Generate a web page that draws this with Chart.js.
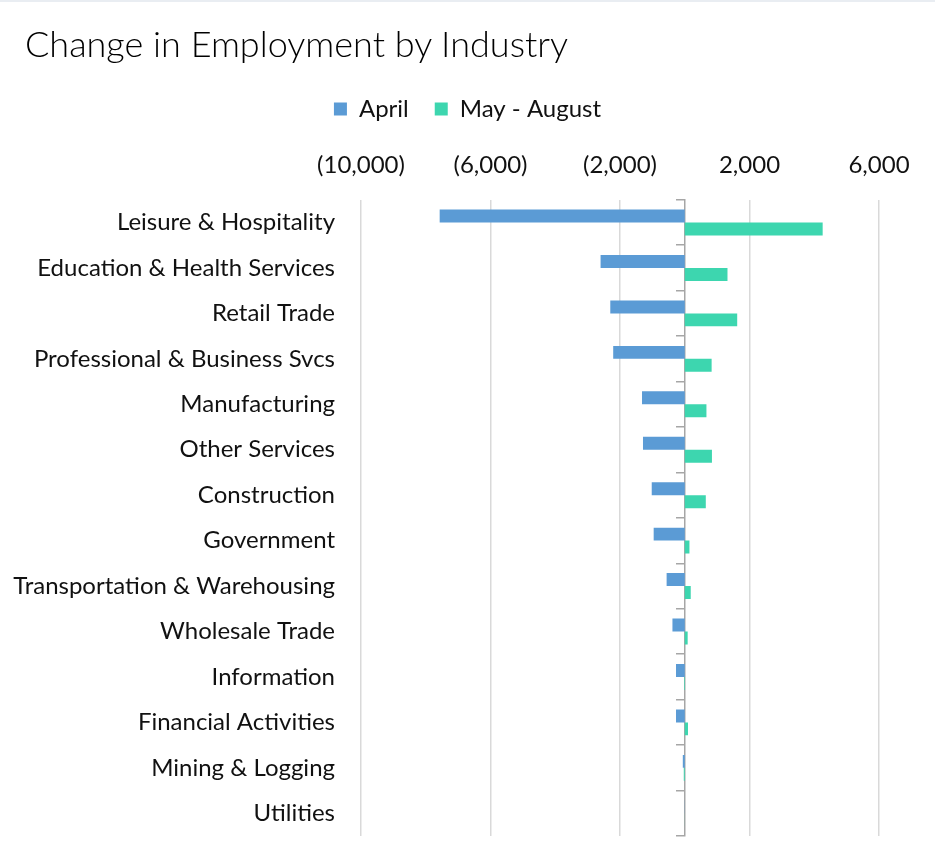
<!DOCTYPE html>
<html lang="en">
<head>
    <meta charset="UTF-8">
    <title>Change in Employment by Industry</title>
    <script src="https://cdn.jsdelivr.net/npm/chart.js"></script>
    <style>
        html, body { margin: 0; padding: 0; background: #fff; }
        .chart-box {
            position: relative;
            width: 935px;
            height: 864px;
            border-top: 2px solid #e9edf2;
            box-sizing: border-box;
        }
        .chart-box h1 {
            position: absolute;
            left: 25px;
            top: 21px;
            margin: 0;
            font-family: Lato, sans-serif;
            font-weight: 300;
            font-size: 36px;
            line-height: 40px;
            color: #000;
        }
        #employmentChart { display: block; }
    </style>
</head>
<body>
    <div class="chart-box">
        <h1>Change in Employment by Industry</h1>
        <canvas id="employmentChart" width="935" height="862"></canvas>
    </div>
<script>
    // Industries, top to bottom
    const industries = [
        'Leisure & Hospitality',
        'Education & Health Services',
        'Retail Trade',
        'Professional & Business Svcs',
        'Manufacturing',
        'Other Services',
        'Construction',
        'Government',
        'Transportation & Warehousing',
        'Wholesale Trade',
        'Information',
        'Financial Activities',
        'Mining & Logging',
        'Utilities'
    ];

    // Change in jobs (thousands)
    const aprilChange = [-7570, -2600, -2300, -2210, -1320, -1290, -1020, -960, -560, -380, -270, -270, -60, -5];
    const mayAugChange = [4260, 1320, 1620, 830, 670, 840, 650, 145, 185, 90, -20, 100, -30, -2];

    // Value axis range and tick spacing
    const axisMin = -10000;
    const axisMax = 6000;
    const axisStep = 4000;

    function fmtThousands(v) {
        const s = Math.abs(v).toLocaleString('en-US');
        return v < 0 ? '(' + s + ')' : s;
    }

    Chart.defaults.font.family = 'Lato, sans-serif';
    Chart.defaults.font.size = 24;
    Chart.defaults.color = '#111';

    const ctx = document.getElementById('employmentChart').getContext('2d');
    new Chart(ctx, {
        type: 'bar',
        data: {
            labels: industries,
            datasets: [{
                label: 'April',
                data: aprilChange,
                backgroundColor: '#5b9bd5'
            }, {
                label: 'May - August',
                data: mayAugChange,
                backgroundColor: '#3dd6af'
            }]
        },
        options: {
            indexAxis: 'y',
            responsive: false,
            animation: false,
            barPercentage: 1,
            categoryPercentage: 0.57,
            layout: {
                padding: { top: 69, right: 0, bottom: 28, left: 0 }
            },
            plugins: {
                legend: {
                    position: 'top',
                    labels: {
                        boxWidth: 13,
                        boxHeight: 13,
                        padding: 26
                    }
                },
                tooltip: { enabled: false }
            },
            scales: {
                x: {
                    position: 'top',
                    min: axisMin,
                    max: axisMax,
                    ticks: {
                        stepSize: axisStep,
                        padding: 20,
                        callback: fmtThousands
                    },
                    grid: {
                        color: '#d9d9d9',
                        lineWidth: 1.5,
                        drawTicks: false
                    },
                    border: { display: false }
                },
                y: {
                    ticks: { padding: 26 },
                    grid: { display: false, drawTicks: false },
                    border: { display: false },
                    afterFit: function (scale) {
                        scale.width = 361;
                        scale.paddingTop = 0;
                        scale.paddingBottom = 0;
                    }
                },
                // empty strip on the right, keeps room for the last x label
                yRight: {
                    type: 'category',
                    axis: 'y',
                    position: 'right',
                    ticks: { display: false },
                    grid: { display: false, drawTicks: false },
                    border: { display: false },
                    afterFit: function (scale) {
                        scale.width = 56;
                    }
                },
                // zero line with category tick marks
                yZero: {
                    type: 'category',
                    axis: 'y',
                    position: { x: 0 },
                    offset: true,
                    ticks: { display: false },
                    grid: {
                        offset: true,
                        drawOnChartArea: false,
                        drawTicks: true,
                        tickLength: 8,
                        color: '#a6a6a6',
                        lineWidth: 1.5
                    },
                    border: { display: true, color: '#a6a6a6', width: 1.5 }
                }
            }
        }
    });
</script>
</body>
</html>
